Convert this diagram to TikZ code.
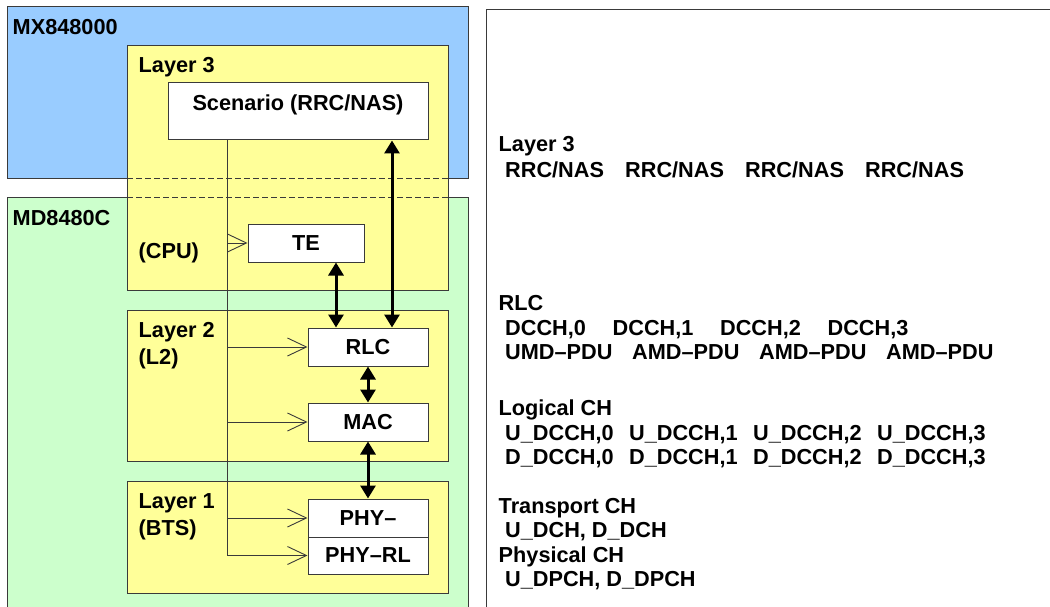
\documentclass[tikz,border=0pt]{standalone}
\usepackage{fontspec}
\setmainfont{Liberation Sans}
\usetikzlibrary{arrows.meta}
\definecolor{mxblue}{HTML}{99CCFF}
\definecolor{mdgreen}{HTML}{CCFFCC}
\definecolor{layeryellow}{HTML}{FFFF99}
\definecolor{edgegray}{HTML}{3A3A3A}
\newcommand{\chrow}[5]{\makebox[#1pt][l]{#2}\makebox[#1pt][l]{#3}\makebox[#1pt][l]{#4}#5}

\begin{document}
\begin{tikzpicture}[x=1pt,y=-1pt,
		font=\fontsize{21.7}{24.5}\selectfont\bfseries,
		panel/.style={draw=edgegray,line width=1pt},
		blk/.style={draw=edgegray,line width=1pt,fill=white,inner sep=0pt,minimum width=120pt,minimum height=38pt},
		lbltxt/.style={anchor=base west,inner sep=0pt},
		bus/.style={draw=edgegray,line width=0.9pt},
		feed/.style={draw=edgegray,line width=0.9pt,-{Straight Barb[length=19pt,width=18pt]}},
		link/.style={line width=3pt,{Triangle[length=13pt,width=15pt]}-{Triangle[length=13pt,width=15pt]}},
		sep/.style={draw=edgegray,line width=0.9pt,dash pattern=on 6pt off 3pt}]
		\useasboundingbox (0,0) rectangle (1050,607);
		\clip (0,0) rectangle (1050,607);
		% equipment panels
		\draw[panel,fill=mxblue] (7,7) rectangle (468,179);
		\draw[panel,fill=mdgreen] (7,197) rectangle (468,640);
		\draw[panel,fill=white] (486,10) rectangle (1070,640);
		\draw[panel,fill=layeryellow] (127,46) rectangle (448,290);
		\draw[panel,fill=layeryellow] (127,310) rectangle (448,461);
		\draw[panel,fill=layeryellow] (127,481) rectangle (448,593);
		\draw[sep] (127,178) -- (448,178);
		\draw[sep] (127,197) -- (448,197);
		\node[lbltxt] (mxname) at (12.5,35) {MX848000};
		\node[lbltxt] (mdname) at (12.5,225) {MD8480C};
		\node[lbltxt] (l3name) at (138.5,73) {Layer 3};
		\node[lbltxt] (cpuname) at (138.5,258) {(CPU)};
		\node[lbltxt] (l2name) at (138.5,337) {Layer 2};
		\node[lbltxt] (l2sub) at (138.5,364) {(L2)};
		\node[lbltxt] (l1name) at (138.5,508) {Layer 1};
		\node[lbltxt] (l1sub) at (138.5,535) {(BTS)};
		% protocol blocks
		\node[blk,minimum width=260pt,minimum height=57pt,text height=16pt,text depth=17pt] (scen) at (298,111.5) {Scenario (RRC/NAS)};
		\node[blk,minimum width=116pt] (te) at (306,243) {TE};
		\node[blk] (rlc) at (368,347) {RLC};
		\node[blk] (mac) at (368,422) {MAC};
		\node[blk] (phya) at (368,518) {PHY–};
		\node[blk,minimum height=37pt] (phyb) at (368,555.5) {PHY–RL};
		% control bus
		\coordinate (bustop) at ([xshift=-71pt]scen.south);
		\coordinate (busend) at (bustop |- phyb.west);
		\draw[bus] (bustop) -- (busend);
		\draw[feed] (bustop |- te.west) -- (te.west);
		\draw[feed] (bustop |- rlc.west) -- (rlc.west);
		\draw[feed] (bustop |- mac.west) -- (mac.west);
		\draw[feed] (bustop |- phya.west) -- (phya.west);
		\draw[feed] (busend) -- (phyb.west);
		% data paths
		\draw[link] ([xshift=94pt]scen.south) -- ([xshift=94pt]scen.south |- rlc.north);
		\draw[link] ([xshift=30pt]te.south) -- ([xshift=30pt]te.south |- rlc.north);
		\draw[link] (rlc.south) -- (mac.north);
		\draw[link] (mac.south) -- (phya.north);
		% channel list
		\node[lbltxt] (l3head) at (498.5,152) {Layer 3};
		\node[lbltxt] (rrcrow) at (505,178) {\chrow{120}{RRC/NAS}{RRC/NAS}{RRC/NAS}{RRC/NAS}};
		\node[lbltxt] (rlchead) at (498.5,310) {RLC};
		\node[lbltxt] (dcchrow) at (505,335) {\chrow{107.5}{DCCH,0}{DCCH,1}{DCCH,2}{DCCH,3}};
		\node[lbltxt] (pdurow) at (505,359) {\chrow{127}{UMD–PDU}{AMD–PDU}{AMD–PDU}{AMD–PDU}};
		\node[lbltxt] (loghead) at (498.5,415) {Logical CH};
		\node[lbltxt] (ulogrow) at (505,440) {\chrow{124}{U\_DCCH,0}{U\_DCCH,1}{U\_DCCH,2}{U\_DCCH,3}};
		\node[lbltxt] (dlogrow) at (505,464) {\chrow{124}{D\_DCCH,0}{D\_DCCH,1}{D\_DCCH,2}{D\_DCCH,3}};
		\node[lbltxt] (trhead) at (498.5,513) {Transport CH};
		\node[lbltxt] (trrow) at (505,537) {U\_DCH, D\_DCH};
		\node[lbltxt] (phhead) at (498.5,562) {Physical CH};
		\node[lbltxt] (phrow) at (505,586) {U\_DPCH, D\_DPCH};
	\end{tikzpicture}
\end{document}
